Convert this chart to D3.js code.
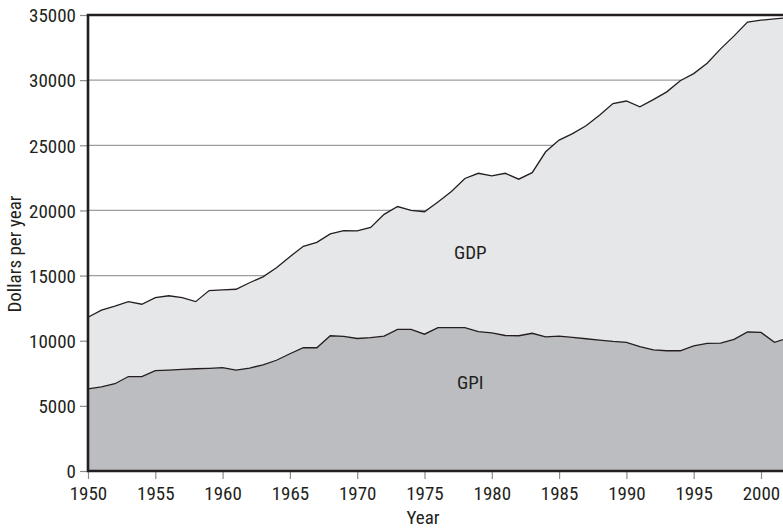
<!DOCTYPE html>
<html>
<head>
<meta charset="utf-8">
<script src="https://cdn.jsdelivr.net/npm/d3@7"></script>
<style>
body { margin: 0; background: #fff; }
svg { display: block; }
text { font-family: "Liberation Sans Narrow", "Roboto Condensed", "Arial Narrow", sans-serif; fill: #231f20; }
</style>
</head>
<body>
<svg id="chart" width="783" height="529"></svg>
<script>
var years = d3.range(1950, 2003)

// GDP per capita, dollars per year
var gdp = [11800, 12350, 12650, 13000, 12800, 13300, 13450, 13300, 13000, 13850,
           13900, 13950, 14450, 14900, 15600, 16450, 17250, 17550, 18200, 18450,
           18430, 18700, 19700, 20300, 20000, 19900, 20650, 21450, 22450, 22850,
           22650, 22850, 22400, 22900, 24500, 25400, 25900, 26500, 27300, 28200,
           28400, 27950, 28500, 29100, 29950, 30500, 31300, 32400, 33400, 34450,
           34600, 34700, 34800]

// Genuine Progress Indicator per capita
var gpi = [6300, 6450, 6700, 7250, 7250, 7700, 7750, 7800, 7850, 7880,
           7930, 7750, 7900, 8150, 8500, 9000, 9460, 9460, 10380, 10330,
           10170, 10230, 10350, 10870, 10870, 10500, 11000, 11000, 11000, 10700,
           10600, 10400, 10380, 10570, 10300, 10350, 10250, 10150, 10050, 9950,
           9880, 9550, 9300, 9230, 9230, 9600, 9800, 9820, 10100, 10670,
           10640, 9880, 10200]

var yTicks = [0, 5000, 10000, 15000, 20000, 25000, 30000, 35000]
var xTicks = [1950, 1955, 1960, 1965, 1970, 1975, 1980, 1985, 1990, 1995, 2000]

function draw() {
    var plotLeft = 88, plotTop = 15, plotBottom = 471, plotRight = 783

    var svg = d3.select("#chart")

    var x = d3.scaleLinear().domain([1950, 2000]).range([plotLeft, 761])
    var y = d3.scaleLinear().domain([0, 35000]).range([plotBottom, plotTop])

    // gridlines sit behind the areas
    svg.append("g")
        .selectAll("line")
        .data(yTicks.filter(function(d) { return d > 0 && d < 35000 }))
        .join("line")
        .attr("x1", plotLeft).attr("x2", plotRight)
        .attr("y1", function(d) { return y(d) }).attr("y2", function(d) { return y(d) })
        .attr("stroke", "#9d9d9f").attr("stroke-width", 1.2)

    var area = d3.area()
        .x(function(d, i) { return x(years[i]) })
        .y0(y(0))
        .y1(function(d) { return y(d) })
    var line = d3.line()
        .x(function(d, i) { return x(years[i]) })
        .y(function(d) { return y(d) })

    svg.append("path").attr("d", area(gdp)).attr("fill", "#e6e7e9")
    svg.append("path").attr("d", area(gpi)).attr("fill", "#bcbdc0")
    svg.append("path").attr("d", line(gdp)).attr("fill", "none").attr("stroke", "#231f20").attr("stroke-width", 1.3)
    svg.append("path").attr("d", line(gpi)).attr("fill", "none").attr("stroke", "#231f20").attr("stroke-width", 1.3)

    var yAxis = svg.append("g")
        .attr("transform", "translate(" + plotLeft + ",0)")
        .call(d3.axisLeft(y).tickValues(yTicks).tickSize(8).tickPadding(4).tickFormat(d3.format("d")))
    yAxis.select(".domain").remove()
    yAxis.selectAll(".tick line").attr("stroke", "#8c8c8e").attr("stroke-width", 1.2)
    yAxis.selectAll("text").attr("font-size", 19).attr("font-family", null).attr("dy", "0.36em")

    var xAxis = svg.append("g")
        .attr("transform", "translate(0," + plotBottom + ")")
        .call(d3.axisBottom(x).tickValues(xTicks).tickSize(8).tickPadding(8).tickFormat(d3.format("d")))
    xAxis.select(".domain").remove()
    xAxis.selectAll(".tick line").attr("stroke", "#8c8c8e").attr("stroke-width", 1.2)
    xAxis.selectAll("text").attr("font-size", 19).attr("font-family", null)

    // frame: top, left and bottom
    svg.append("path")
        .attr("d", "M" + plotRight + "," + plotTop + "H" + plotLeft + "V" + plotBottom + "H" + plotRight)
        .attr("fill", "none").attr("stroke", "#231f20").attr("stroke-width", 2.6)

    svg.append("text").attr("x", x(1978.4)).attr("y", y(16250)).attr("text-anchor", "middle")
        .attr("font-size", 19).text("GDP")
    svg.append("text").attr("x", x(1978.4)).attr("y", y(6320)).attr("text-anchor", "middle")
        .attr("font-size", 19).text("GPI")
    svg.append("text").attr("x", 423).attr("y", 524).attr("text-anchor", "middle")
        .attr("font-size", 19).text("Year")
    svg.append("text").attr("transform", "translate(21,254) rotate(-90)").attr("text-anchor", "middle")
        .attr("font-size", 19).text("Dollars per year")
}

draw()
</script>
</body>
</html>
